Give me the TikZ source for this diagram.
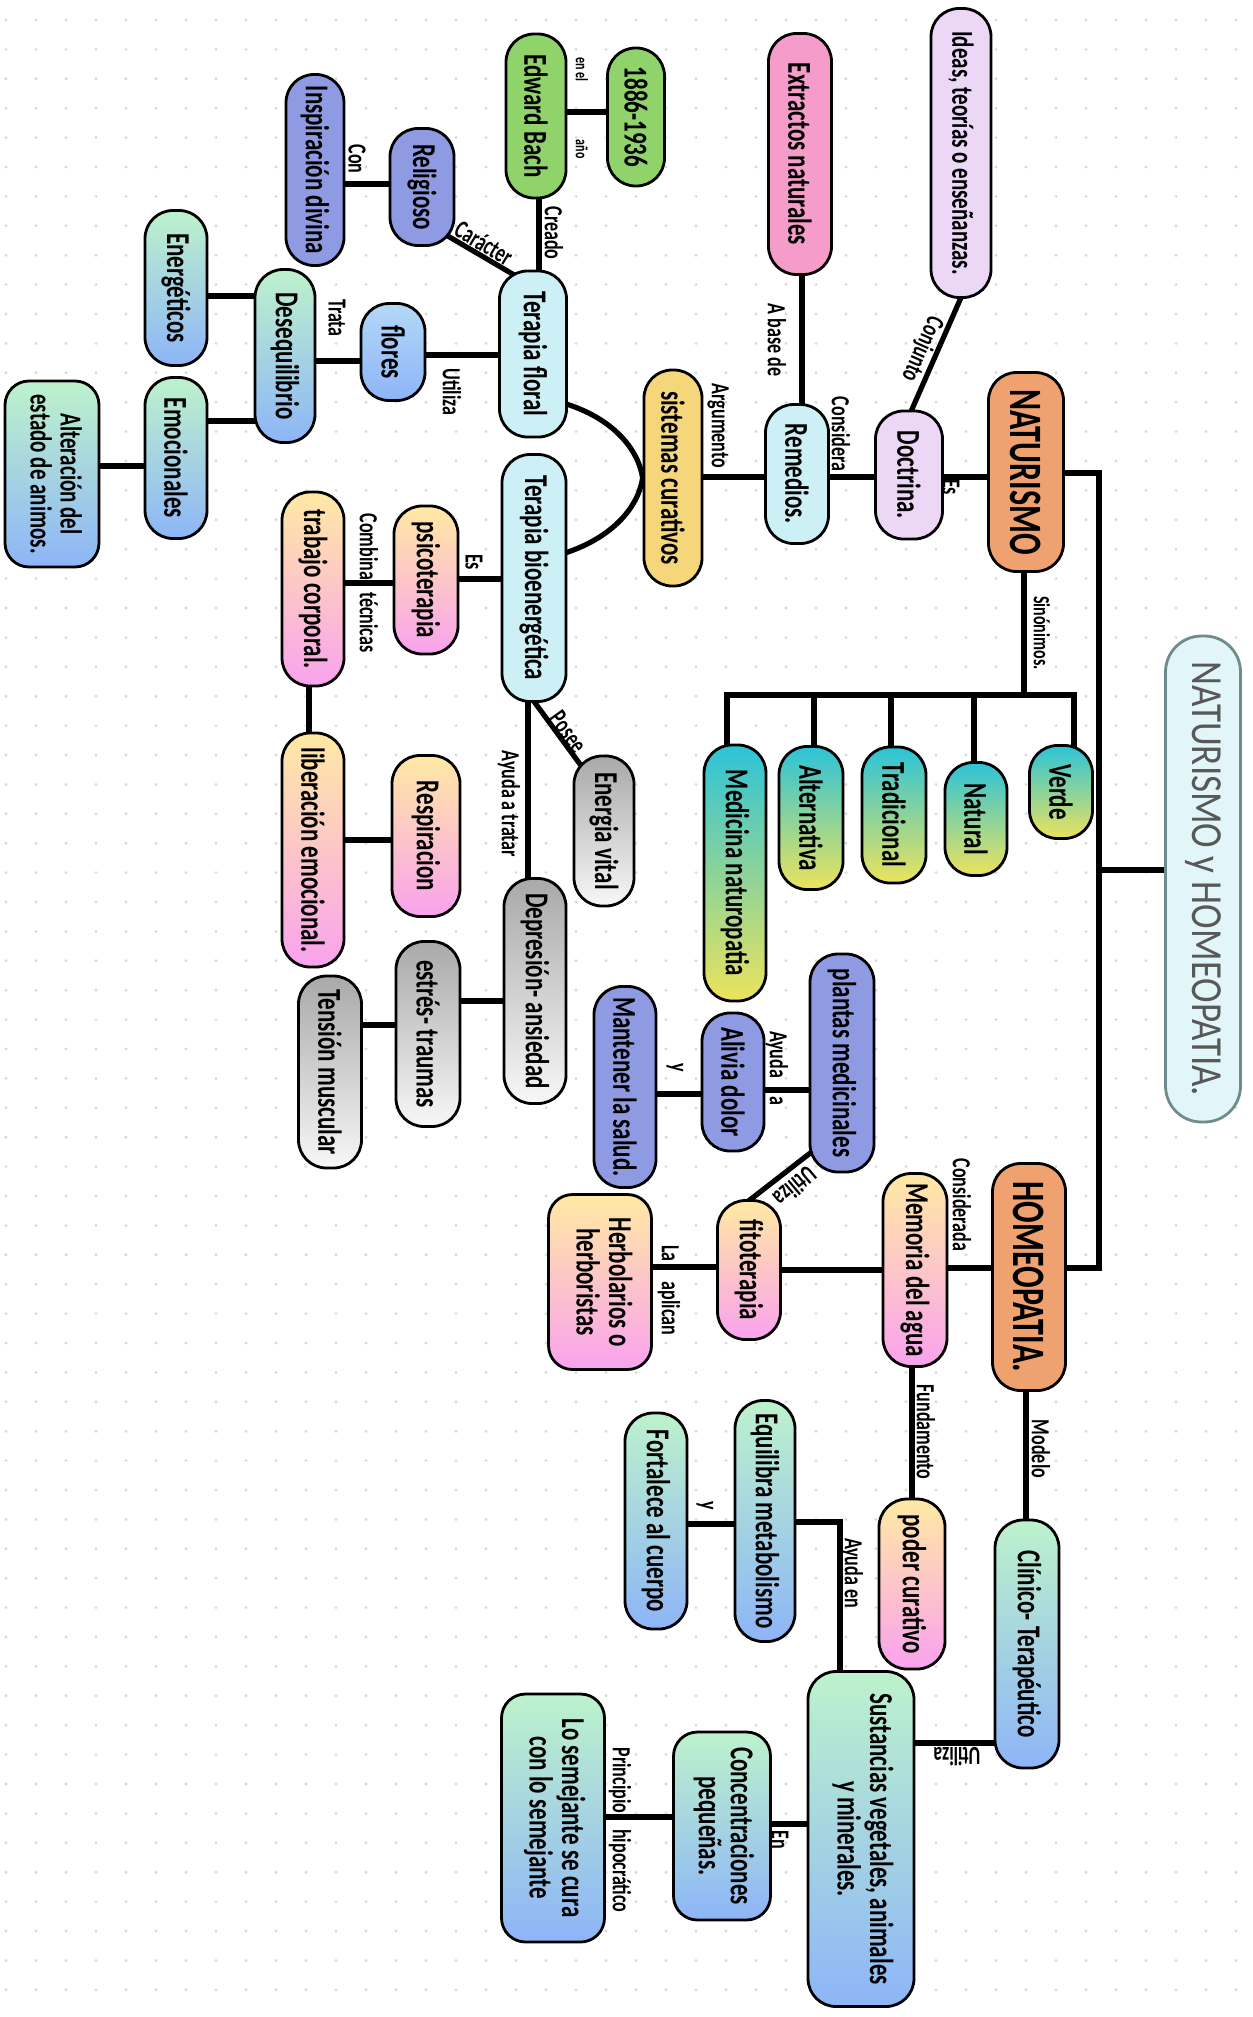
\documentclass[tikz,border=0pt]{standalone}
\usepackage{fontspec}
\setmainfont{Carlito}
\usetikzlibrary{calc}
\pgfdeclarelayer{dots}
\pgfdeclarelayer{edges}
\pgfsetlayers{dots,edges,main}
\definecolor{dotc}{HTML}{D9D9D9}
\definecolor{cgreen}{HTML}{8FD36A}
\definecolor{cpurp}{HTML}{8E9AE2}
\definecolor{ccyan}{HTML}{CDEFF6}
\definecolor{cmint}{HTML}{BDF2CC}
\definecolor{cblue}{HTML}{8DB5F7}
\definecolor{cpeach}{HTML}{FFE9A3}
\definecolor{cpink}{HTML}{F9A2EE}
\definecolor{cgray}{HTML}{A9A9A9}
\definecolor{cwhite}{HTML}{F7F7F7}
\definecolor{cteal}{HTML}{2CC3D8}
\definecolor{cyel}{HTML}{ECE35C}
\definecolor{cpinkx}{HTML}{F59CCB}
\definecolor{clav}{HTML}{EDD7F7}
\definecolor{csist}{HTML}{F6D67B}
\definecolor{corange}{HTML}{EFA26F}
\definecolor{ctitle}{HTML}{E2F5F8}
\definecolor{ctitleb}{HTML}{6F8C8C}
\definecolor{ctitlet}{HTML}{585858}
\newcommand\vtxt[2][-90]{\rotatebox{#1}{\scalebox{1}[1.45]{#2}}}
\newcommand\twol[2]{\begin{tabular}{@{}c@{}}#1\\#2\end{tabular}}
\tikzset{
 bx/.style={draw=black, line width=1.4pt, rounded corners=14pt, inner sep=0pt, align=center, font=\bfseries\fontsize{11.5}{10.5}\selectfont},
 sz/.style 2 args={minimum width=#1pt, minimum height=#2pt},
 gb/.style={top color=cmint, bottom color=cblue},
 yp/.style={top color=cpeach, bottom color=cpink},
 gy/.style={top color=cgray, bottom color=cwhite},
 ty/.style={top color=cteal, bottom color=cyel},
 lbl/.style={inner sep=0pt, font=\bfseries\fontsize{9}{10}\selectfont},
 con/.style={line width=2.6pt, draw=black, line cap=rect},
}
\begin{document}
\begin{tikzpicture}[x=0.5pt,y=-0.5pt]
\useasboundingbox (0,0) rectangle (1252,2017);
\begin{pgfonlayer}{dots}
\fill[white] (0,0) rectangle (1252,2017);
\foreach \i in {0,...,41}{\foreach \j in {0,...,68}{\fill[dotc] (6+30*\i,20+29.4*\j) circle (0.8pt);}}
\end{pgfonlayer}
% nodes
\node[bx, fill=cgreen, sz={28.5}{69}] (y1886) at (636,117) {\vtxt{1886-1936}};
\node[bx, fill=cgreen, sz={30}{82}] (bach) at (536,116) {\vtxt{Edward Bach}};
\node[bx, fill=cpurp, sz={32}{58.5}] (relig) at (422,187) {\vtxt{Religioso}};
\node[bx, fill=cpurp, sz={29}{95.5}] (insp) at (315,170) {\vtxt{Inspiración divina}};
\node[bx, fill=ccyan, sz={33.5}{83}] (tfloral) at (533,354) {\vtxt{Terapia floral}};
\node[bx, gb, sz={30}{86.5}] (deseq) at (285,356) {\vtxt{Desequilibrio}};
\node[bx, top color=ccyan!60!cblue, bottom color=cblue, sz={32}{48.5}] (flores) at (393,352) {\vtxt{flores}};
\node[bx, gb, sz={31}{77.5}] (energ) at (176,288) {\vtxt{Energéticos}};
\node[bx, gb, sz={31}{80.5}] (emoc) at (176,458) {\vtxt{Emocionales}};
\node[bx, gb, sz={47}{93}, rounded corners=12pt, font=\bfseries\fontsize{10.5}{10}\selectfont] (alter) at (52,474) {\vtxt{\twol{Alteración del}{estado de animos.}}};
\node[bx, fill=ccyan, sz={32}{123.5}] (tbio) at (534,578) {\vtxt{Terapia bioenergética}};
\node[bx, yp, sz={32}{74}] (psico) at (426,580) {\vtxt{psicoterapia}};
\node[bx, yp, sz={31}{97}] (trab) at (313,589) {\vtxt{trabajo corporal.}};
\node[bx, yp, sz={31}{117}] (liber) at (313,850) {\vtxt{liberación emocional.}};
\node[bx, yp, sz={34}{80.5}] (resp) at (426,836) {\vtxt{Respiracion}};
\node[bx, gy, sz={30}{75}] (evital) at (604,831) {\vtxt{Energia vital}};
\node[bx, gy, sz={31}{112.5}] (depre) at (535,991) {\vtxt{Depresión- ansiedad}};
\node[bx, gy, sz={32}{92.5}] (estres) at (428,1034) {\vtxt{estrés- traumas}};
\node[bx, gy, sz={31.5}{96}] (tension) at (330,1072) {\vtxt{Tensión muscular}};
\node[bx, fill=cpurp, sz={31}{100.5}] (mant) at (625,1087) {\vtxt{Mantener la salud.}};
\node[bx, yp, sz={51.5}{87.5}, rounded corners=12pt] (herb) at (600,1282) {\vtxt{\twol{Herbolarios o}{herboristas}}};
\node[bx, fill=cpurp, sz={32}{109}] (plantas) at (842,1063) {\vtxt{plantas medicinales}};
\node[bx, fill=cpurp, sz={31}{69}] (alivia) at (733,1082) {\vtxt{Alivia dolor}};
\node[bx, yp, sz={31.5}{69.5}] (fito) at (749,1270) {\vtxt{fitoterapia}};
\node[bx, yp, sz={32}{96.5}] (memoria) at (915,1270) {\vtxt{Memoria del agua}};
\node[bx, fill=corange, sz={36.5}{113.5}, font=\bfseries\fontsize{16}{18}\selectfont] (homeo) at (1029,1277) {\vtxt{HOMEOPATIA.}};
\node[bx, gb, sz={30}{120.5}] (equil) at (765,1521) {\vtxt{Equilibra metabolismo}};
\node[bx, gb, sz={31}{108}] (fort) at (656,1521) {\vtxt{Fortalece al cuerpo}};
\node[bx, yp, sz={33}{85}] (poder) at (912,1584) {\vtxt{poder curativo}};
\node[bx, gb, sz={32}{124}] (clinico) at (1027,1644) {\vtxt{Clínico- Terapéutico}};
\node[bx, gb, sz={53}{167.5}] (sust) at (861,1839) {\vtxt{\twol{Sustancias vegetales, animales}{y minerales.}}};
\node[bx, gb, sz={48.5}{94}, rounded corners=12pt] (conc) at (722,1826) {\vtxt{\twol{Concentraciones}{pequeñas.}}};
\node[bx, gb, sz={51.5}{124}, rounded corners=12pt] (semej) at (553,1818) {\vtxt{\twol{Lo semejante se cura}{con lo semejante}}};
\node[bx, fill=cpinkx, sz={31.5}{120.5}] (extr) at (800,154) {\vtxt{Extractos naturales}};
\node[bx, fill=clav, sz={30}{144.5}, font=\bfseries\fontsize{10.5}{11}\selectfont] (ideas) at (961,153) {\vtxt{Ideas, teorías o enseñanzas.}};
\node[bx, fill=ccyan, sz={31.5}{69.5}] (remed) at (797,474) {\vtxt{Remedios.}};
\node[bx, fill=clav, sz={33.5}{64}] (doct) at (909,475) {\vtxt{Doctrina.}};
\node[bx, fill=corange, sz={37.5}{99.5}, font=\bfseries\fontsize{16}{18}\selectfont] (natur) at (1026,472) {\vtxt{NATURISMO}};
\node[bx, fill=csist, sz={29}{108}] (sist) at (673,478) {\vtxt{sistemas curativos}};
\node[bx, ty, sz={31.5}{46.5}] (verde) at (1061,792) {\vtxt{Verde}};
\node[bx, ty, sz={31}{56.5}] (natural) at (976,819) {\vtxt{Natural}};
\node[bx, ty, sz={32}{68}] (trad) at (894,815) {\vtxt{Tradicional}};
\node[bx, ty, sz={32}{71.5}] (altern) at (811,818) {\vtxt{Alternativa}};
\node[bx, ty, sz={31}{128}] (medic) at (735,873) {\vtxt{Medicina naturopatia}};
\node[draw=ctitleb, line width=1.4pt, fill=ctitle, rounded corners=18pt, sz={37.5}{243}, inner sep=0pt, text=ctitlet, font=\fontsize{18.5}{20}\selectfont] (title) at (1203,879) {\rotatebox{-90}{\scalebox{1}[1.2]{NATURISMO y HOMEOPATIA.}}};
% labels
\node[lbl, font=\bfseries\fontsize{6}{7}\selectfont] (l1) at (582,108) {\vtxt{en el\hspace{29pt}año}};
\node[lbl] (l2) at (554,233) {\vtxt{Creado}};
\node[lbl] (l3) at (357,159) {\vtxt{Con}};
\node[lbl] (l4) at (484,243) {\vtxt[-31]{Carácter}};
\node[lbl] (l5) at (337,318) {\vtxt{Trata}};
\node[lbl] (l6) at (452,392) {\vtxt{Utiliza}};
\node[lbl] (l7) at (474,562) {\vtxt{Es}};
\node[lbl] (l8) at (369,583) {\vtxt{Combina\hspace{6pt}técnicas}};
\node[lbl] (l9) at (568,732) {\vtxt[-54.5]{Posee}};
\node[lbl] (l10) at (509,804) {\vtxt{Ayuda a tratar}};
\node[lbl] (l11) at (777,1068) {\vtxt{Ayuda\hspace{9pt}a}};
\node[lbl] (l12) at (675,1068) {\vtxt{y}};
\node[lbl] (l13) at (795,1187) {\vtxt[-140]{Utiliza}};
\node[lbl] (l14) at (962,1205) {\vtxt{Considerada}};
\node[lbl] (l15) at (669,1290) {\vtxt{La\hspace{10pt}aplican}};
\node[lbl] (l16) at (926,1432) {\vtxt{Fundamento}};
\node[lbl] (l17) at (1041,1449) {\vtxt{Modelo}};
\node[lbl] (l18) at (705,1506) {\vtxt{y}};
\node[lbl] (l19) at (852,1573) {\vtxt{Ayuda en}};
\node[lbl] (l20) at (957,1757) {\vtxt[180]{Utiliza}};
\node[lbl] (l21) at (780,1840) {\vtxt{En}};
\node[lbl] (l22) at (620,1830) {\vtxt{Principio\hspace{8pt}hipocrático}};
\node[lbl] (l23) at (777,340) {\vtxt{A base de}};
\node[lbl] (l24) at (922,349) {\vtxt[-114]{Conjunto}};
\node[lbl] (l25) at (718,426) {\vtxt{Argumento}};
\node[lbl] (l26) at (841,434) {\vtxt{Considera}};
\node[lbl] (l27) at (951,487) {\vtxt{Es}};
\node[lbl, font=\bfseries\fontsize{8}{9}\selectfont] (l28) at (1042,633) {\vtxt{Sinónimos.}};
% connectors
\begin{pgfonlayer}{edges}
\draw[con] (bach.east |- 0,112) -- (y1886.west |- 0,112);
\draw[con] (539,0 |- bach.south) -- (539,0 |- tfloral.north);
\draw[con] ($(relig.center)+(19,45)$) -- ($(tfloral.center)+(-12,-75)$);
\draw[con] (insp.east |- 0,184) -- (relig.west |- 0,184);
\draw[con] (deseq.east |- 0,361) -- (flores.west |- 0,361);
\draw[con] (flores.east |- 0,355) -- (tfloral.west |- 0,355);
\draw[con] (energ.east |- 0,296) -- (deseq.west |- 0,296);
\draw[con] (emoc.east |- 0,421) -- (deseq.west |- 0,421);
\draw[con] (alter.east |- 0,466) -- (emoc.west |- 0,466);
\draw[con, line cap=butt] ($(tfloral.center)+(30,49)$) .. controls ($(sist.west)+(-29,-60)$) and ($(sist.west)+(-4,-28)$) .. (sist.west) .. controls ($(sist.west)+(-4,28)$) and ($(sist.west)+(-29,60)$) .. ($(tbio.center)+(28,-24)$);
\draw[con] (tbio.west |- 0,579) -- (psico.east |- 0,579);
\draw[con] (psico.west |- 0,583) -- (trab.east |- 0,583);
\draw[con] (309,0 |- trab.south) -- (309,0 |- liber.north);
\draw[con] (liber.east |- 0,840) -- (resp.west |- 0,840);
\draw[con] ($(tbio.center)+(-4,118)$) -- ($(evital.center)+(-19,-60)$);
\draw[con] (528,0 |- tbio.south) -- (528,0 |- depre.north);
\draw[con] (depre.west |- 0,1001) -- (estres.east |- 0,1001);
\draw[con] (estres.west |- 0,1025) -- (tension.east |- 0,1025);
\draw[con] (alivia.east |- 0,1090) -- (plantas.west |- 0,1090);
\draw[con] (mant.east |- 0,1094) -- (alivia.west |- 0,1094);
\draw[con] ($(plantas.center)+(-24,84)$) -- ($(fito.center)+(-7,-64)$);
\draw[con] (fito.east |- 0,1270) -- (memoria.west |- 0,1270);
\draw[con] (memoria.east |- 0,1268) -- (homeo.west |- 0,1268);
\draw[con] (herb.east |- 0,1267) -- (fito.west |- 0,1267);
\draw[con] (912,0 |- memoria.south) -- (912,0 |- poder.north);
\draw[con] (1026,0 |- homeo.south) -- (1026,0 |- clinico.north);
\draw[con] (fort.east |- 0,1524) -- (equil.west |- 0,1524);
\coordinate (ayk) at (840,1522);
\draw[con] (equil.east |- ayk) -- (ayk) -- (ayk |- sust.north);
\draw[con] (sust.east |- 0,1743) -- (clinico.west |- 0,1743);
\draw[con] (conc.east |- 0,1824) -- (sust.west |- 0,1824);
\draw[con] (semej.east |- 0,1817) -- (conc.west |- 0,1817);
\draw[con] (802,0 |- extr.south) -- (802,0 |- remed.north);
\draw[con] ($(ideas.center)+(2,140)$) -- ($(doct.center)+(0,-59)$);
\draw[con] (sist.east |- 0,477) -- (remed.west |- 0,477);
\draw[con] (remed.east |- 0,477) -- (doct.west |- 0,477);
\draw[con] (doct.east |- 0,477) -- (natur.west |- 0,477);
\coordinate (sp1) at (1099,473);
\coordinate (sp2) at (1099,1268);
\coordinate (sp3) at (1099,870);
\draw[con] (natur.east |- sp1) -- (sp1) -- (sp2) -- (homeo.east |- sp2);
\draw[con] (sp3) -- (title.west |- sp3);
\coordinate (synj) at (1024,695);
\draw[con] (synj |- natur.south) -- (synj);
\coordinate (bl) at (727,695);
\coordinate (br) at (1074,695);
\draw[con] (bl) -- (br);
\draw[con] (bl) -- (bl |- medic.north);
\draw[con] (814,695) -- (814,695 |- altern.north);
\draw[con] (891,695) -- (891,695 |- trad.north);
\draw[con] (974,695) -- (974,695 |- natural.north);
\draw[con] (br) -- (br |- verde.north);
\end{pgfonlayer}
\end{tikzpicture}
\end{document}
